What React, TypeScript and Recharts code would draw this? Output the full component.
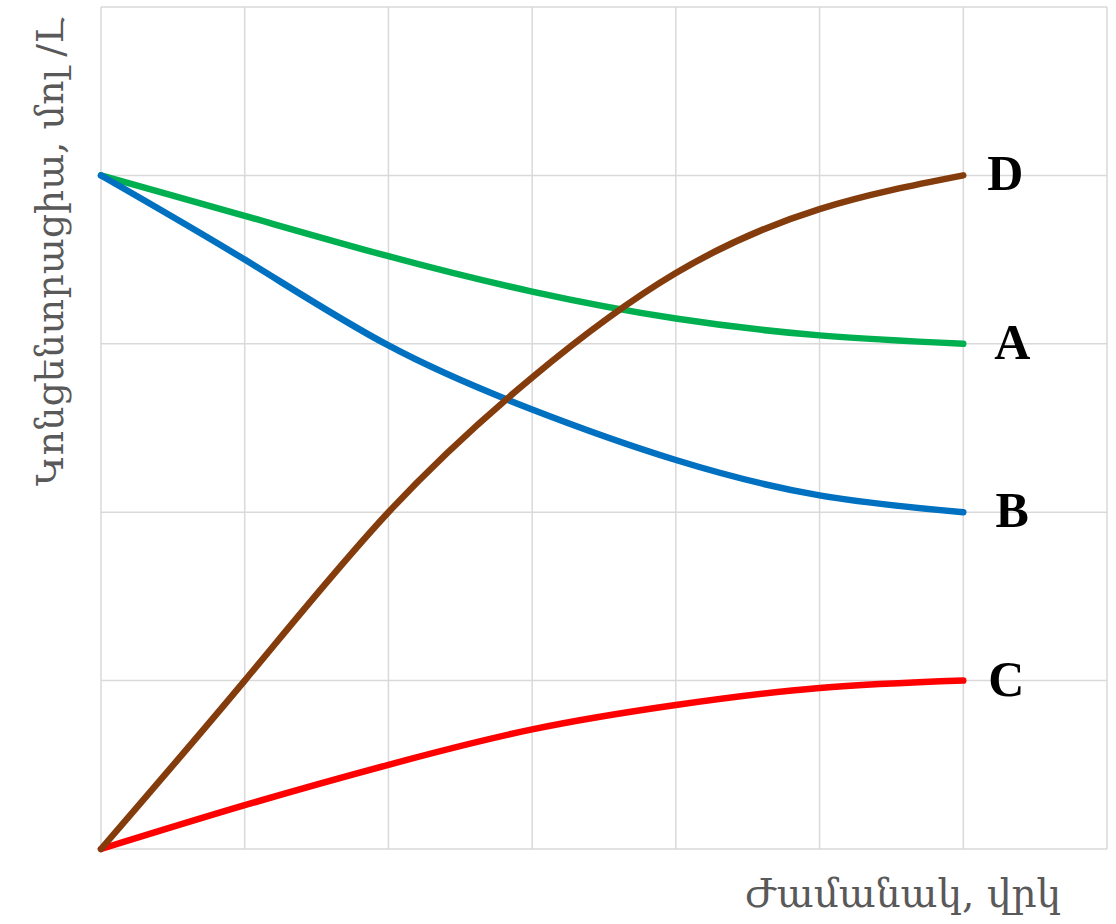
import { CartesianGrid, Customized, Line, LineChart, XAxis, YAxis } from 'recharts';

// time steps (x) and concentrations
const times: number[] = [0, 1, 2, 3, 4, 5, 6];
const seriesA: number[] = [4, 3.76, 3.52, 3.31, 3.15, 3.05, 3.0];
const seriesB: number[] = [4, 3.5, 2.99, 2.61, 2.31, 2.1, 2.0];
const seriesC: number[] = [0, 0.26, 0.5, 0.71, 0.855, 0.956, 1.0];
const seriesD: number[] = [0, 1.0, 2.0, 2.8, 3.42, 3.8, 4.0];

const xTicks: number[] = [0, 1, 2, 3, 4, 5, 6, 7];
const yTicks: number[] = [0, 1, 2, 3, 4, 5];

const xTitle = 'Ժամանակ, վրկ';
const yTitle = 'Կոնցենտրացիա, մոլ /Լ';

const data = times.map((t, i) => ({
  t,
  A: seriesA[i],
  B: seriesB[i],
  C: seriesC[i],
  D: seriesD[i],
}));

const serif = '"DejaVu Serif", "Liberation Serif", serif';

function endLabel(name: string, dx: number) {
  return (props: any) => {
    const { x, y, index } = props;
    if (index !== times.length - 1) return <g />;
    return (
      <text
        x={x + dx}
        y={y - 2}
        textAnchor="middle"
        dominantBaseline="central"
        fontFamily='"Liberation Serif", serif'
        fontWeight="bold"
        fontSize={50}
        fill="#000"
      >
        {name}
      </text>
    );
  };
}

function Titles() {
  return (
    <g>
      <text
        x={903}
        y={893}
        textAnchor="middle"
        dominantBaseline="central"
        fontFamily={serif}
        fontSize={39}
        fill="#595959"
      >
        {xTitle}
      </text>
      <text
        x={50}
        y={252}
        transform="rotate(-90 50 252)"
        textAnchor="middle"
        dominantBaseline="central"
        fontFamily={serif}
        fontSize={38}
        fill="#595959"
      >
        {yTitle}
      </text>
    </g>
  );
}

const hiddenTick = () => <g />;

export default function App() {
  return (
    <div style={{ position: 'absolute', left: 0, top: 0, background: '#fff' }}>
      <LineChart
        width={1116}
        height={924}
        data={data}
        margin={{ top: 7, right: 9, bottom: 75, left: 101 }}
      >
        <CartesianGrid stroke="#D9D9D9" strokeWidth={1.5} />
        <XAxis
          dataKey="t"
          type="number"
          domain={[0, 7]}
          ticks={xTicks}
          interval={0}
          tick={hiddenTick}
          tickLine={false}
          height={0}
          axisLine={{ stroke: '#BFBFBF', strokeWidth: 3 }}
        />
        <YAxis
          type="number"
          domain={[0, 5]}
          ticks={yTicks}
          interval={0}
          tick={hiddenTick}
          tickLine={false}
          width={0}
          axisLine={{ stroke: '#BFBFBF', strokeWidth: 3 }}
        />
        <Line
          type="natural"
          dataKey="A"
          stroke="#00B050"
          strokeWidth={6.5}
          strokeLinecap="round"
          dot={false}
          isAnimationActive={false}
          label={endLabel('A', 49)}
        />
        <Line
          type="natural"
          dataKey="B"
          stroke="#0070C0"
          strokeWidth={6.5}
          strokeLinecap="round"
          dot={false}
          isAnimationActive={false}
          label={endLabel('B', 49)}
        />
        <Line
          type="natural"
          dataKey="C"
          stroke="#FF0000"
          strokeWidth={6.5}
          strokeLinecap="round"
          dot={false}
          isAnimationActive={false}
          label={endLabel('C', 43)}
        />
        <Line
          type="natural"
          dataKey="D"
          stroke="#843C0C"
          strokeWidth={6.5}
          strokeLinecap="round"
          dot={false}
          isAnimationActive={false}
          label={endLabel('D', 42)}
        />
        <Customized component={Titles} />
      </LineChart>
    </div>
  );
}
